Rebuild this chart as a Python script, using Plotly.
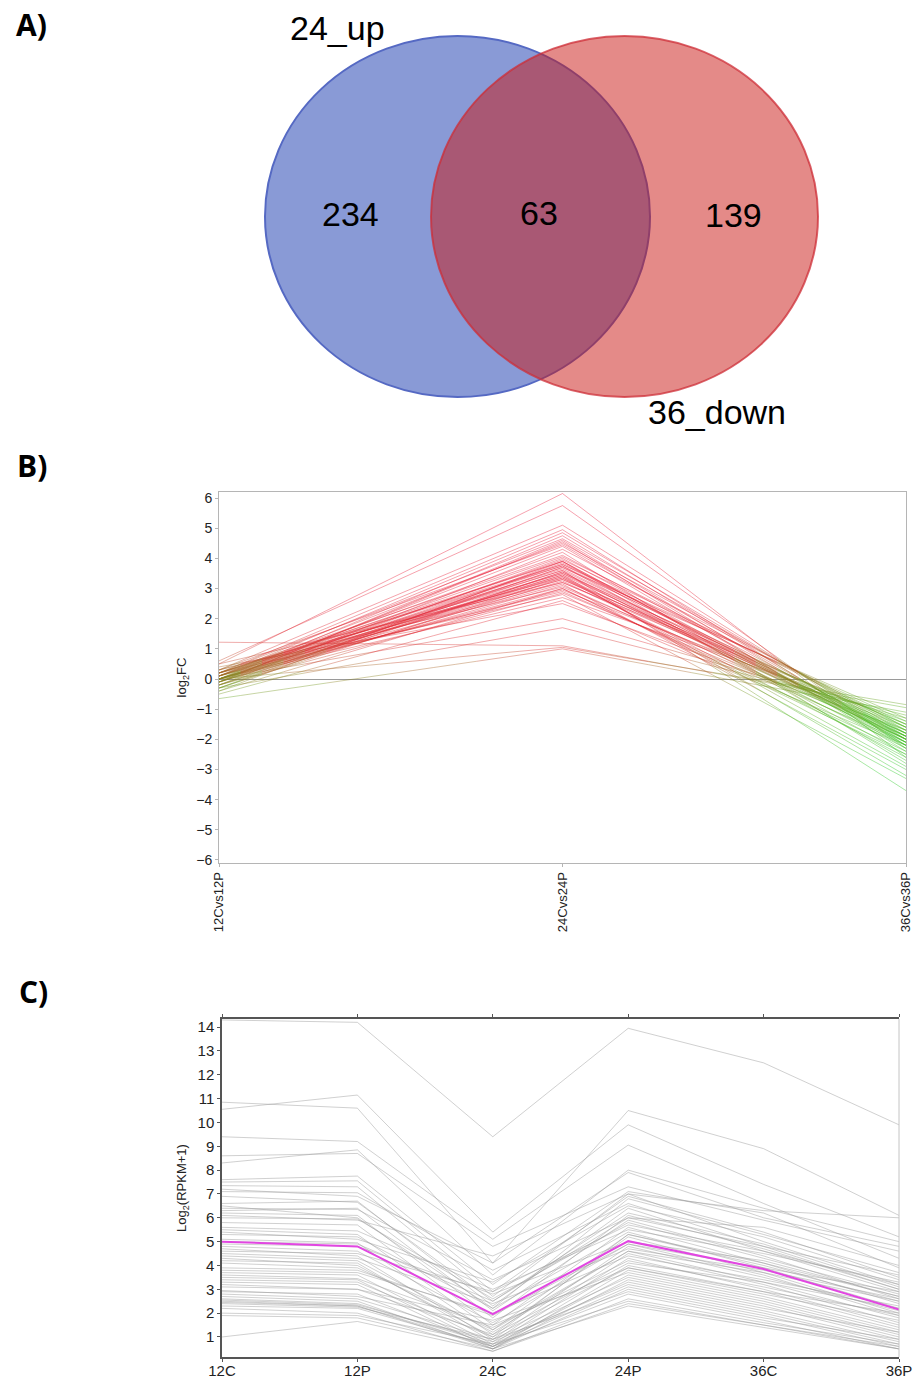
import plotly.graph_objects as go

# ---------------- DATA ----------------
venn_set_names = ["24_up", "36_down"]
venn_counts = [234, 63, 139]  # only 24_up, both, only 36_down

b_categories = ["12Cvs12P", "24Cvs24P", "36Cvs36P"]
b_12 = [0.5, 0.6, 0.3, 0.2, 0.1, 0.0, 0.2, -0.1, 0.1, 0.3, 0.0, -0.2, 0.1, 0.2, -0.1, 0.0,
        0.1, -0.3, 0.2, 0.0, -0.1, 0.1, 0.0, -0.2, 0.2, 0.0, -0.1, 0.1, -0.3, 0.0, 0.2, -0.2,
        0.1, 0.0, -0.1, 0.3, -0.4, 0.0, 0.1, -0.2, 0.2, 0.0, -0.5, 0.4, 0.0, -0.3, 1.22, 0.0,
        -0.65, 0.1, -0.1, 0.0, 0.2, -0.2, 0.1, -0.3, 0.3, 0.0, -0.1, 0.5, -0.4, 0.0, 0.2]
b_24 = [6.15, 5.75, 5.1, 4.95, 4.85, 4.75, 4.65, 4.55, 4.5, 4.45, 4.4, 4.3, 4.2, 4.1, 4.0, 3.95,
        3.9, 3.85, 3.8, 3.75, 3.7, 3.65, 3.6, 3.55, 3.5, 3.5, 3.45, 3.4, 3.35, 3.3, 3.3, 3.25,
        3.2, 3.15, 3.1, 3.05, 3.0, 2.95, 2.9, 2.85, 2.8, 2.7, 2.6, 2.5, 2.0, 1.7, 1.1, 1.05,
        1.0, 3.6, 3.4, 3.8, 3.9, 3.7, 4.05, 3.55, 3.35, 3.0, 4.6, 3.2, 3.9, 3.45, 3.75]
b_36 = [-2.6, -2.3, -2.0, -2.2, -1.9, -2.1, -1.8, -2.4, -1.7, -2.0, -2.3, -1.6, -2.8, -1.9, -2.1, -1.5,
        -2.2, -2.0, -1.8, -2.5, -1.7, -2.0, -1.9, -2.3, -1.6, -2.1, -1.8, -2.0, -2.6, -1.5, -1.9, -2.2,
        -1.7, -3.0, -2.0, -1.8, -2.4, -1.6, -2.1, -1.9, -3.3, -1.4, -2.2, -1.7, -1.3, -1.2, -0.95, -0.85,
        -1.1, -3.7, -2.9, -1.4, -2.7, -1.3, -1.6, -2.0, -1.8, -2.5, -2.2, -1.5, -2.1, -3.2, -1.9]

c_categories = ["12C", "12P", "24C", "24P", "36C", "36P"]
c_genes = [
    [14.3, 14.2, 9.4, 13.95, 12.5, 9.9],
    [10.85, 10.6, 4.1, 10.5, 8.9, 6.1],
    [10.55, 11.15, 5.4, 9.9, 7.4, 5.2],
    [9.4, 9.2, 5.1, 9.05, 6.6, 4.3],
    [8.3, 8.85, 3.6, 8.0, 6.4, 5.0],
    [8.6, 8.7, 4.8, 7.3, 5.9, 4.6],
    [7.6, 7.75, 3.2, 7.1, 6.2, 3.9],
    [7.5, 7.55, 2.9, 6.9, 5.4, 3.5],
    [7.35, 7.3, 2.7, 7.0, 5.0, 3.2],
    [7.1, 7.05, 3.8, 6.6, 4.8, 3.6],
    [6.9, 6.65, 2.5, 6.2, 4.9, 3.1],
    [6.6, 6.7, 2.3, 6.4, 4.6, 2.9],
    [6.4, 6.35, 3.4, 6.0, 5.6, 4.0],
    [6.3, 6.4, 2.1, 5.9, 4.4, 2.6],
    [6.2, 6.1, 1.8, 6.1, 4.7, 3.0],
    [6.0, 5.95, 2.6, 5.8, 4.3, 2.8],
    [5.8, 5.7, 1.5, 5.6, 4.1, 2.4],
    [5.6, 5.45, 3.0, 5.5, 4.5, 3.3],
    [5.5, 5.3, 1.3, 5.3, 4.0, 2.5],
    [5.3, 5.2, 2.2, 5.4, 3.9, 2.2],
    [5.1, 4.95, 1.1, 5.2, 3.7, 2.0],
    [4.9, 4.8, 2.8, 5.0, 4.2, 2.7],
    [4.8, 4.6, 1.6, 4.9, 3.6, 1.9],
    [4.7, 4.4, 0.9, 4.8, 3.5, 2.1],
    [4.5, 4.3, 2.4, 4.7, 3.8, 2.6],
    [4.4, 4.2, 1.2, 4.6, 3.3, 1.8],
    [4.2, 4.1, 0.8, 4.5, 3.2, 1.6],
    [3.8, 3.7, 2.0, 4.4, 3.4, 2.3],
    [3.7, 3.6, 0.7, 4.3, 3.0, 1.5],
    [3.6, 3.45, 1.4, 4.2, 3.1, 1.9],
    [3.5, 3.4, 0.6, 4.0, 2.9, 1.4],
    [3.4, 3.3, 1.0, 3.9, 2.8, 1.7],
    [3.3, 3.2, 0.5, 3.8, 2.7, 1.3],
    [3.1, 3.0, 1.7, 3.7, 2.6, 1.2],
    [2.9, 2.8, 0.6, 3.6, 2.5, 1.1],
    [2.8, 2.6, 0.9, 3.5, 2.4, 1.0],
    [2.7, 2.5, 0.5, 3.4, 2.3, 0.9],
    [2.6, 2.4, 0.7, 3.3, 2.2, 1.2],
    [2.55, 2.35, 0.8, 3.2, 2.1, 0.8],
    [2.5, 2.3, 0.6, 3.1, 2.0, 0.7],
    [2.45, 2.3, 0.5, 3.0, 1.9, 0.6],
    [2.4, 2.25, 0.9, 2.9, 1.8, 0.9],
    [2.3, 2.2, 0.6, 2.8, 1.7, 0.5],
    [2.2, 2.0, 0.4, 2.6, 1.6, 0.7],
    [2.0, 1.9, 0.7, 2.5, 1.5, 0.6],
    [1.9, 1.8, 0.5, 2.3, 1.4, 0.5],
    [1.0, 1.65, 0.4, 2.4, 1.5, 0.5],
    [5.4, 5.1, 3.3, 6.5, 5.2, 3.4],
    [4.6, 4.5, 2.9, 5.7, 4.6, 3.2],
    [6.1, 5.9, 4.4, 7.0, 6.3, 6.0],
    [3.9, 3.8, 1.9, 4.9, 3.9, 2.9],
    [4.1, 3.9, 1.3, 4.6, 3.7, 2.5],
    [3.2, 3.0, 1.1, 4.1, 3.3, 2.2],
    [7.2, 6.9, 4.1, 7.9, 6.0, 4.8],
    [5.0, 4.9, 2.5, 6.0, 4.8, 3.0],
    [2.95, 2.7, 1.5, 3.9, 2.9, 2.0],
    [6.5, 6.0, 2.2, 6.8, 5.3, 3.7],
    [4.3, 4.0, 1.0, 5.3, 4.1, 2.7],
]
c_highlight = [5.0, 4.8, 1.96, 5.02, 3.85, 2.15]

# ---------------- STYLE / LAYOUT CONSTANTS ----------------
W, H = 914, 1379
FONT = "Liberation Sans, Arial, sans-serif"
BLUE_FILL = "rgb(137,154,214)"
BLUE_LINE = "rgb(85,105,195)"
RED_FILL = "rgba(201,21,17,0.5)"
RED_LINE = "rgba(205,45,55,0.75)"
BLUE_BOX = (265, 36, 650, 397)
RED_BOX = (431, 36, 818, 397)
SET_LABEL_POS = [(337, 28), (717, 412)]
COUNT_POS = [(350, 214), (539, 213), (733, 215)]


def py(p):  # pixel row -> paper y
    return 1 - p / H


def px(p):
    return p / W


fig = go.Figure()

# ---------------- Panel A: Venn ----------------
fig.add_shape(type="circle", xref="x", yref="y",
              x0=BLUE_BOX[0], y0=BLUE_BOX[1], x1=BLUE_BOX[2], y1=BLUE_BOX[3],
              fillcolor=BLUE_FILL, line=dict(color=BLUE_LINE, width=2), layer="below")
fig.add_shape(type="circle", xref="x", yref="y",
              x0=RED_BOX[0], y0=RED_BOX[1], x1=RED_BOX[2], y1=RED_BOX[3],
              fillcolor=RED_FILL, line=dict(color=RED_LINE, width=2), layer="below")
for name, (lx, ly) in zip(venn_set_names, SET_LABEL_POS):
    fig.add_annotation(x=lx, y=ly, xref="x", yref="y", text=name, showarrow=False,
                       xanchor="center", yanchor="middle",
                       font=dict(family=FONT, size=34, color="black"))
for cnt, (lx, ly) in zip(venn_counts, COUNT_POS):
    fig.add_annotation(x=lx, y=ly, xref="x", yref="y", text=str(cnt), showarrow=False,
                       xanchor="center", yanchor="middle",
                       font=dict(family=FONT, size=34, color="black"))
fig.add_trace(go.Scatter(x=[0], y=[0], xaxis="x", yaxis="y", mode="markers",
                         marker=dict(opacity=0), hoverinfo="skip", showlegend=False))

# ---------------- Panel B: gradient-coloured lines ----------------
STOPS = [(-3.0, (35, 200, 30)), (-1.2, (80, 180, 30)), (-0.3, (115, 150, 30)),
         (0.2, (150, 120, 35)), (0.6, (190, 75, 40)), (1.2, (220, 40, 45)),
         (3.0, (232, 22, 48)), (7.0, (232, 22, 58))]


def color_at(v):
    if v <= STOPS[0][0]:
        return STOPS[0][1]
    for (a, ca), (b, cb) in zip(STOPS[:-1], STOPS[1:]):
        if v <= b:
            t = (v - a) / (b - a)
            return tuple(int(round(ca[i] + t * (cb[i] - ca[i]))) for i in range(3))
    return STOPS[-1][1]


NBINS = 30
VMIN, VMAX = -4.0, 6.5
NSUB = 16
NGROUPS = 8
bins = {}
xs_cat = list(range(len(b_categories)))
for gi, vals in enumerate(zip(b_12, b_24, b_36)):
    grp = gi % NGROUPS
    for k in range(len(vals) - 1):
        xa, xb = xs_cat[k], xs_cat[k + 1]
        ya, yb = vals[k], vals[k + 1]
        # the straight segment is only split to render a colour gradient along it
        for s in range(NSUB):
            t0, t1 = s / NSUB, (s + 1) / NSUB
            ym = ya + (yb - ya) * (t0 + t1) / 2
            bi = int((ym - VMIN) / (VMAX - VMIN) * NBINS)
            bi = max(0, min(NBINS - 1, bi))
            d = bins.setdefault((grp, bi), ([], []))
            d[0].extend([xa + (xb - xa) * t0, xa + (xb - xa) * t1, None])
            d[1].extend([ya + (yb - ya) * t0, ya + (yb - ya) * t1, None])

for (grp, bi), (xx, yy) in sorted(bins.items()):
    v = VMIN + (bi + 0.5) * (VMAX - VMIN) / NBINS
    r, g, b = color_at(v)
    fig.add_trace(go.Scatter(x=xx, y=yy, xaxis="x2", yaxis="y2", mode="lines",
                             line=dict(color=f"rgba({r},{g},{b},0.4)", width=1),
                             hoverinfo="skip", showlegend=False))

# ---------------- Panel C ----------------
for vals in c_genes:
    fig.add_trace(go.Scatter(x=c_categories, y=vals, xaxis="x3", yaxis="y3", mode="lines",
                             line=dict(color="rgba(150,150,150,0.45)", width=1),
                             hoverinfo="skip", showlegend=False))
fig.add_trace(go.Scatter(x=c_categories, y=c_highlight, xaxis="x3", yaxis="y3", mode="lines",
                         line=dict(color="rgb(226,70,226)", width=2),
                         hoverinfo="skip", showlegend=False))

fig.add_shape(type="line", xref="x3 domain", yref="y3 domain", x0=1, x1=1, y0=0, y1=1,
              line=dict(color="#c4c4c4", width=1))

# ---------------- Panel labels ----------------
for lab, (lx, ly) in zip(["A)", "B)", "C)"], [(31, 25), (32, 466), (33, 991)]):
    fig.add_annotation(x=px(lx), y=py(ly), xref="paper", yref="paper", text=f"<b>{lab}</b>",
                       showarrow=False, xanchor="center", yanchor="middle",
                       font=dict(family="Open Sans, Liberation Sans, sans-serif", size=30, color="black"))

tickfont_b = dict(family=FONT, size=14, color="#222")
tickfont_c = dict(family=FONT, size=15, color="#222")

fig.update_layout(
    width=W, height=H, margin=dict(l=0, r=0, t=0, b=0, autoexpand=False),
    paper_bgcolor="white", plot_bgcolor="white", showlegend=False,
    xaxis=dict(domain=[0, 1], range=[0, W], visible=False, fixedrange=True, automargin=False),
    yaxis=dict(domain=[py(440), 1], range=[440, 0], visible=False, fixedrange=True, automargin=False),
    xaxis2=dict(domain=[px(219), px(906)], range=[0, 2], anchor="y2", automargin=False,
                tickmode="array", tickvals=[0, 1, 2], ticktext=b_categories,
                tickangle=-90, tickfont=dict(family=FONT, size=13, color="#222"),
                showline=True, linecolor="#b5b5b5", linewidth=1, mirror=True,
                ticks="outside", ticklen=3, tickcolor="#b5b5b5", showgrid=False, zeroline=False),
    yaxis2=dict(domain=[py(863), py(492)], range=[-6.1, 6.2], anchor="x2", automargin=False,
                tickmode="array", tickvals=list(range(-6, 7)), tickfont=tickfont_b,
                showline=True, linecolor="#b5b5b5", linewidth=1, mirror=True,
                ticks="outside", ticklen=3, tickcolor="#b5b5b5", showgrid=False,
                zeroline=True, zerolinecolor="#9a9a9a", zerolinewidth=1,
                title=dict(text="log<sub>2</sub>FC", font=dict(family=FONT, size=13, color="#222"),
                           standoff=6)),
    xaxis3=dict(domain=[px(222), px(899)], range=[0, 5], anchor="y3", automargin=False,
                tickfont=tickfont_c, showline=True, linecolor="#555", linewidth=1.5, mirror="ticks",
                ticks="outside", ticklen=3, tickcolor="#555", showgrid=False, zeroline=False,
                ticklabelstandoff=-4),
    yaxis3=dict(domain=[py(1357), py(1019)], range=[0.16, 14.34], anchor="x3", automargin=False,
                tickmode="array", tickvals=list(range(1, 15)), tickfont=tickfont_c,
                showline=True, linecolor="#555", linewidth=1.5,
                ticks="outside", ticklen=3, tickcolor="#555", showgrid=False, zeroline=False,
                title=dict(text="Log<sub>2</sub>(RPKM+1)", font=dict(family=FONT, size=13, color="#222"),
                           standoff=8)),
)

fig.write_html("out.html")
